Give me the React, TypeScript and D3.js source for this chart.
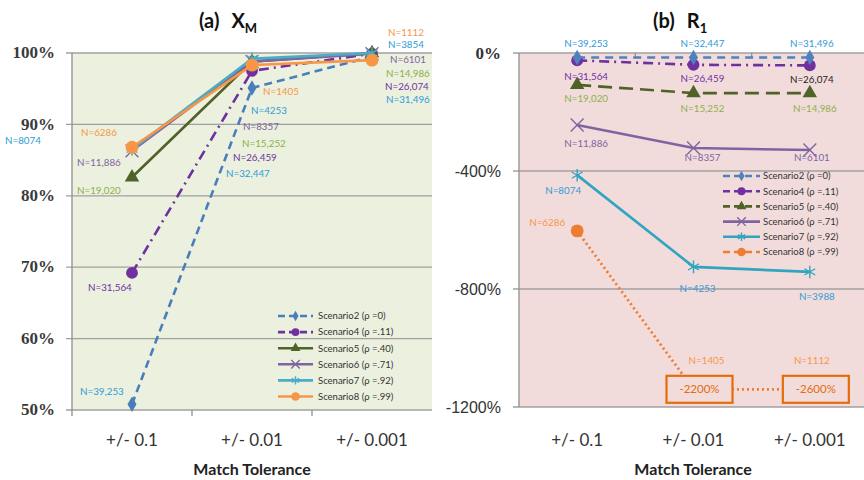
import React from 'react';
import * as d3 from 'd3';

// data
const categories = ["+/- 0.1", "+/- 0.01", "+/- 0.001"];
const seriesNames = [
  "Scenario2 (ρ =0)",
  "Scenario4 (ρ =.11)",
  "Scenario5 (ρ =.40)",
  "Scenario6 (ρ =.71)",
  "Scenario7 (ρ =.92)",
  "Scenario8 (ρ =.99)"
];
// panel (a): X_M, fraction matched
const xmValues = [
  [0.508, 0.951, 0.995],
  [0.692, 0.975, 0.999],
  [0.826, 0.988, 1.0],
  [0.863, 0.988, 0.999],
  [0.865, 0.992, 1.0],
  [0.868, 0.983, 0.990]
];
// panel (b): R_1, in percent
const r1Values = [
  [-15, -15, -15],
  [-25, -40, -42],
  [-108, -136, -136],
  [-244, -322, -329],
  [-414, -725, -742],
  [-603, -2200, -2600]
];
const xmCounts = [
  ["N=39,253", "N=32,447", "N=31,496"],
  ["N=31,564", "N=26,459", "N=26,074"],
  ["N=19,020", "N=15,252", "N=14,986"],
  ["N=11,886", "N=8357", "N=6101"],
  ["N=8074", "N=4253", "N=3854"],
  ["N=6286", "N=1405", "N=1112"]
];
const r1Counts = [
  ["N=39,253", "N=32,447", "N=31,496"],
  ["N=31,564", "N=26,459", "N=26,074"],
  ["N=19,020", "N=15,252", "N=14,986"],
  ["N=11,886", "N=8357", "N=6101"],
  ["N=8074", "N=4253", "N=3988"],
  ["N=6286", "N=1405", "N=1112"]
];
const xmTicks = [0.5, 0.6, 0.7, 0.8, 0.9, 1.0];
const r1Ticks = [0, -400, -800, -1200];
const r1Floor = -1140; // values below this are drawn on the floor and boxed

// styles
const FONT = "Lato, 'Liberation Sans', sans-serif";
const lineColors = ["#4A7EBB", "#7030A0", "#4F6228", "#8064A2", "#4BACC6", "#F79646"];
const labelColors = ["#2F9BD8", "#7030A0", "#8DB04A", "#8064A2", "#2F9BD8", "#F79646"];
const symbols = [d3.symbolDiamond, d3.symbolCircle, d3.symbolTriangle, d3.symbolTimes, d3.symbolAsterisk, d3.symbolCircle];
const symbolSizes = [70, 110, 90, 110, 110, 130];
const leftDash = ["8,5", "10,5,2,5", "none", "none", "none", "none"];
const rightDash = ["8,6", "10,5,2,5", "14,7", "none", "none", "2,3"];
const rightColors = ["#4F81BD", "#7030A0", "#4F6228", "#8064A2", "#31A5C0", "#ED7D31"];

// label offsets relative to the point (start anchored in (a), middle in (b))
const xmLabelOffsets = [
  [[-52, -13], [-26, 86], [14, 43]],
  [[-44, 15], [-19, 87], [13, 33]],
  [[-55, 13], [-10, 82], [14, 21]],
  [[-55, 12], [-9, 65], [18, 6]],
  [[-127, -9], [-1, 52], [16, -8]],
  [[-51, -15], [11, 26], [16, -28]]
];
const r1LabelOffsets = [
  [[9, -14], [9, -14], [2, -14]],
  [[9, 16], [9, 14], [2, 14]],
  [[9, 14], [9, 15], [5, 15]],
  [[9, 19], [9, 10], [2, 8]],
  [[-14, 15], [4, 22], [7, 25]],
  [[-30, -8], [13, -29], [2, -29]]
];

const W = 864;
const H = 480;

function Marker({ i, x, y, color, scale = 1 }: { i: number; x: number; y: number; color: string; scale?: number }) {
  const d = d3.symbol(symbols[i], symbolSizes[i] * scale)()!;
  const stroke = i === 3 || i === 4;
  return (
    <path
      d={d}
      transform={`translate(${x},${y})`}
      fill={stroke ? "none" : color}
      stroke={color}
      strokeWidth={stroke ? 1.4 : 0}
    />
  );
}

function PanelA() {
  const x = d3.scaleBand().domain(categories).range([72, 432]);
  const y = d3.scaleLinear().domain([0.5, 1.0]).range([410, 53]);
  const cx = (c: string) => x(c)! + x.bandwidth() / 2;
  const line = d3.line<number>().x((_, j) => cx(categories[j])).y(v => y(v));
  const order = [0, 1, 2, 3, 4, 5];
  return (
    <g>
      <defs>
        <clipPath id="clipA"><rect x={0} y={0} width={431} height={H} /></clipPath>
      </defs>
      <rect x={72} y={53} width={360} height={357} fill="#EBF1DE" />
      {xmTicks.map(t => (
        <g key={t}>
          <line x1={66} x2={432} y1={y(t)} y2={y(t)} stroke="#A0A0A0" strokeWidth={1.3} />
          <text x={55} y={y(t)} dy="0.3em" textAnchor="end" fontFamily="'Liberation Serif', serif"
            fontWeight="bold" fontSize={17} fill="#3a3a3a">{Math.round(t * 100)}%</text>
        </g>
      ))}
      <line x1={72} x2={72} y1={53} y2={410} stroke="#909090" strokeWidth={1.3} />
      {[0, 1, 2].map(j => (
        <line key={j} x1={72 + j * x.bandwidth()} x2={72 + j * x.bandwidth()} y1={410} y2={416} stroke="#909090" strokeWidth={1.3} />
      ))}
      {categories.map(c => (
        <text key={c} x={cx(c)} y={446} textAnchor="middle" fontFamily={FONT} fontSize={17} fill="#333">{c}</text>
      ))}
      <text x={252} y={475} textAnchor="middle" fontFamily={FONT} fontWeight="bold" fontSize={16} fill="#222">Match Tolerance</text>
      <text x={199} y={28} fontFamily={FONT} fontWeight="bold" fontSize={20} fill="#111">
        (a)<tspan dx={12}>X</tspan><tspan fontSize={13} dy={5}>M</tspan>
      </text>
      {order.map(i => (
        <g key={i}>
          <path d={line(xmValues[i])!} fill="none" stroke={lineColors[i]} strokeWidth={2.6}
            strokeDasharray={leftDash[i]} />
          {xmValues[i].map((v, j) => (
            <Marker key={j} i={i} x={cx(categories[j])} y={y(v)} color={lineColors[i]} />
          ))}
        </g>
      ))}
      <g clipPath="url(#clipA)">
        {order.map(i => xmCounts[i].map((n, j) => (
          <text key={`${i}-${j}`} x={cx(categories[j]) + xmLabelOffsets[i][j][0]} y={y(xmValues[i][j]) + xmLabelOffsets[i][j][1]}
            dy="0.35em" fontFamily={FONT} fontSize={9.8} fill={labelColors[i]}>{n}</text>
        )))}
      </g>
      {seriesNames.map((s, i) => {
        const ly = 316 + i * 16.1;
        return (
          <g key={s}>
            <line x1={278} x2={313} y1={ly} y2={ly} stroke={lineColors[i]} strokeWidth={2.6} strokeDasharray={leftDash[i] === "none" ? "none" : "7,4"} />
            <Marker i={i} x={295.5} y={ly} color={lineColors[i]} scale={0.45} />
            <text x={318} y={ly} dy="0.35em" fontFamily={FONT} fontSize={9.5} fill="#333">{s}</text>
          </g>
        );
      })}
    </g>
  );
}

function PanelB() {
  const x = d3.scaleBand().domain(categories).range([519, 868]);
  const y = d3.scaleLinear().domain([-1200, 0]).range([407, 53]);
  const cx = (c: string) => x(c)! + x.bandwidth() / 2;
  const clampV = (v: number) => Math.max(v, r1Floor);
  const line = d3.line<number>().x((_, j) => cx(categories[j])).y(v => y(clampV(v)));
  const order = [5, 4, 3, 2, 1, 0];
  return (
    <g>
      <rect x={519} y={53} width={W - 519} height={354} fill="#F2DCDB" />
      {r1Ticks.map(t => (
        <g key={t}>
          <line x1={513} x2={W} y1={y(t)} y2={y(t)} stroke="#A0A0A0" strokeWidth={1.3} />
          <text x={501} y={y(t)} dy="0.35em" textAnchor="end"
            fontFamily={t === 0 ? "'Liberation Serif', serif" : "'Liberation Sans', sans-serif"}
            fontWeight={t === 0 ? "bold" : "normal"} fontSize={t === 0 ? 17 : 16} fill="#333">{t}%</text>
        </g>
      ))}
      <line x1={519} x2={519} y1={53} y2={407} stroke="#909090" strokeWidth={1.3} />
      {[1, 2].map(j => (
        <line key={j} x1={519 + j * x.bandwidth()} x2={519 + j * x.bandwidth()} y1={53} y2={58} stroke="#909090" strokeWidth={1.3} />
      ))}
      {categories.map(c => (
        <text key={c} x={cx(c)} y={446} textAnchor="middle" fontFamily={FONT} fontSize={17} fill="#333">{c}</text>
      ))}
      <text x={693} y={475} textAnchor="middle" fontFamily={FONT} fontWeight="bold" fontSize={16} fill="#222">Match Tolerance</text>
      <text x={653} y={28} fontFamily={FONT} fontWeight="bold" fontSize={20} fill="#111">
        (b)<tspan dx={12}>R</tspan><tspan fontSize={13} dy={5}>1</tspan>
      </text>
      {order.map(i => (
        <g key={i}>
          <path d={line(r1Values[i])!} fill="none" stroke={rightColors[i]} strokeWidth={i === 5 ? 2.8 : 2.6}
            strokeDasharray={rightDash[i]} />
          {r1Values[i].map((v, j) => v < r1Floor ? null : (
            <Marker key={j} i={i} x={cx(categories[j])} y={y(v)} color={rightColors[i]} />
          ))}
        </g>
      ))}
      {order.map(i => r1Counts[i].map((n, j) => (
        <text key={`${i}-${j}`} x={cx(categories[j]) + r1LabelOffsets[i][j][0]} y={y(clampV(r1Values[i][j])) + r1LabelOffsets[i][j][1]}
          dy="0.35em" textAnchor="middle" fontFamily={FONT} fontSize={9.8}
          fill={i === 1 && j === 2 ? "#222" : labelColors[i]}>{n}</text>
      )))}
      {r1Values[5].map((v, j) => v < r1Floor ? (
        <g key={j} transform={`translate(${cx(categories[j]) + 6},${y(r1Floor)})`}>
          <rect x={-33} y={-13.5} width={66} height={27} fill="#F2DCDB" stroke="#E46C0A" strokeWidth={2.2} />
          <text x={0} y={0} dy="0.35em" textAnchor="middle" fontFamily={FONT} fontSize={11.5} fill="#E46C0A">{v}%</text>
        </g>
      ) : null)}
      {seriesNames.map((s, i) => {
        const ly = 176 + i * 15.2;
        return (
          <g key={s}>
            <line x1={723} x2={760} y1={ly} y2={ly} stroke={rightColors[i]} strokeWidth={2.6}
              strokeDasharray={rightDash[i] === "none" ? "none" : "7,4"} />
            <Marker i={i} x={741.5} y={ly} color={rightColors[i]} scale={0.45} />
            <text x={763} y={ly} dy="0.35em" fontFamily={FONT} fontSize={9.5} fill="#333">{s}</text>
          </g>
        );
      })}
    </g>
  );
}

export default function App() {
  return (
    <svg width={W} height={H} style={{ position: 'absolute', left: 0, top: 0, background: '#fff' }}>
      <PanelA />
      <PanelB />
    </svg>
  );
}
